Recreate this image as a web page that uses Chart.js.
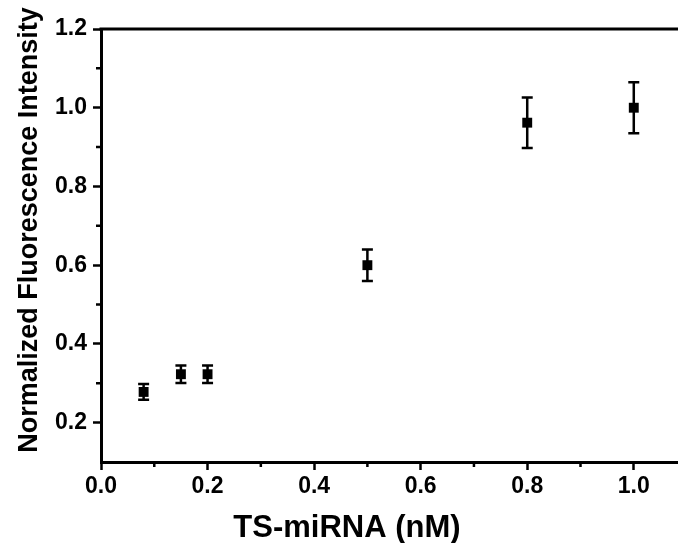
<!DOCTYPE html>
<html><head><meta charset="utf-8">
<script src="https://cdn.jsdelivr.net/npm/chart.js@4"></script>
<style>html,body{margin:0;padding:0;background:#fff}#wrap{width:678px;height:543px}</style>
</head><body><div id="wrap"><canvas id="c" width="678" height="543"></canvas></div>
<script>
const concentrations = [0.08, 0.15, 0.2, 0.5, 0.8, 1.0];
const intensities = [0.278, 0.323, 0.323, 0.600, 0.962, 1.000];
const errors = [0.020, 0.022, 0.022, 0.040, 0.064, 0.065];
const xTicks = [0.0, 0.2, 0.4, 0.6, 0.8, 1.0];
const xMinorTicks = [0.1, 0.3, 0.5, 0.7, 0.9];
const yTicks = [0.2, 0.4, 0.6, 0.8, 1.0, 1.2];
const yMinorTicks = [0.3, 0.5, 0.7, 0.9, 1.1];
const xTitle = 'TS-miRNA (nM)';
const yTitle = 'Normalized Fluorescence Intensity';

const FONT = "'Liberation Sans', Arial, sans-serif";

const extras = {
  id: 'extras',
  afterDatasetsDraw(chart) {
    const ctx = chart.ctx, xs = chart.scales.x, ys = chart.scales.y, a = chart.chartArea;
    ctx.save();
    ctx.strokeStyle = '#000';
    ctx.lineWidth = 2.5;
    concentrations.forEach((c, i) => {
      const px = xs.getPixelForValue(c);
      const top = ys.getPixelForValue(intensities[i] + errors[i]);
      const bot = ys.getPixelForValue(intensities[i] - errors[i]);
      ctx.beginPath();
      ctx.moveTo(px, top); ctx.lineTo(px, bot);
      ctx.moveTo(px - 5.5, top); ctx.lineTo(px + 5.5, top);
      ctx.moveTo(px - 5.5, bot); ctx.lineTo(px + 5.5, bot);
      ctx.stroke();
    });
    ctx.lineWidth = 3;
    ctx.beginPath();
    ctx.moveTo(a.left - 1.5, a.top); ctx.lineTo(a.right + 2, a.top);
    ctx.stroke();
    ctx.lineWidth = 2.5;
    ctx.beginPath();
    xMinorTicks.forEach(v => { const p = xs.getPixelForValue(v); ctx.moveTo(p, a.bottom); ctx.lineTo(p, a.bottom + 5); });
    yMinorTicks.forEach(v => { const p = ys.getPixelForValue(v); ctx.moveTo(a.left, p); ctx.lineTo(a.left - 5, p); });
    ctx.stroke();
    ctx.fillStyle = '#000';
    ctx.textAlign = 'center';
    ctx.textBaseline = 'alphabetic';
    ctx.font = 'bold 31px ' + FONT;
    ctx.fillText(xTitle, a.left + 246, a.bottom + 75);
    ctx.translate(a.left - 64, a.top + 201);
    ctx.rotate(-Math.PI / 2);
    ctx.font = 'bold 27px ' + FONT;
    ctx.fillText(yTitle, 0, 0);
    ctx.restore();
  }
};

new Chart(document.getElementById('c'), {
  type: 'scatter',
  data: {
    datasets: [{
      data: concentrations.map((c, i) => ({x: c, y: intensities[i]})),
      pointStyle: 'rect',
      pointRadius: 7,
      pointHoverRadius: 7,
      backgroundColor: '#000',
      borderColor: '#000',
      borderWidth: 0
    }]
  },
  options: {
    responsive: false,
    animation: false,
    devicePixelRatio: 1,
    layout: { autoPadding: false, padding: { top: 29, right: 0, left: 0, bottom: 0 } },
    plugins: { legend: { display: false }, tooltip: { enabled: false } },
    scales: {
      x: {
        type: 'linear', min: 0, max: 1.083,
        afterBuildTicks: s => { s.ticks = xTicks.map(v => ({value: v})); },
        afterFit: s => { s.height = 81; s.paddingRight = 0; s.paddingLeft = 0; },
        border: { display: true, color: '#000', width: 3 },
        grid: { drawOnChartArea: false, drawTicks: true, tickLength: 8, tickWidth: 2.5, tickColor: '#000' },
        ticks: { color: '#000', padding: 3, font: { family: FONT, size: 23, weight: 'bold' }, callback: v => Number(v).toFixed(1), maxRotation: 0, autoSkip: false },
        title: { display: false }
      },
      y: {
        type: 'linear', min: 0.1, max: 1.2,
        afterBuildTicks: s => { s.ticks = yTicks.map(v => ({value: v})); },
        afterFit: s => { s.width = 101; s.paddingTop = 0; s.paddingBottom = 0; },
        border: { display: true, color: '#000', width: 3 },
        grid: { drawOnChartArea: false, drawTicks: true, tickLength: 8, tickWidth: 2.5, tickColor: '#000' },
        ticks: { color: '#000', padding: 6, font: { family: FONT, size: 23, weight: 'bold' }, callback: v => Number(v).toFixed(1), autoSkip: false },
        title: { display: false }
      }
    }
  },
  plugins: [extras]
});
</script></body></html>
